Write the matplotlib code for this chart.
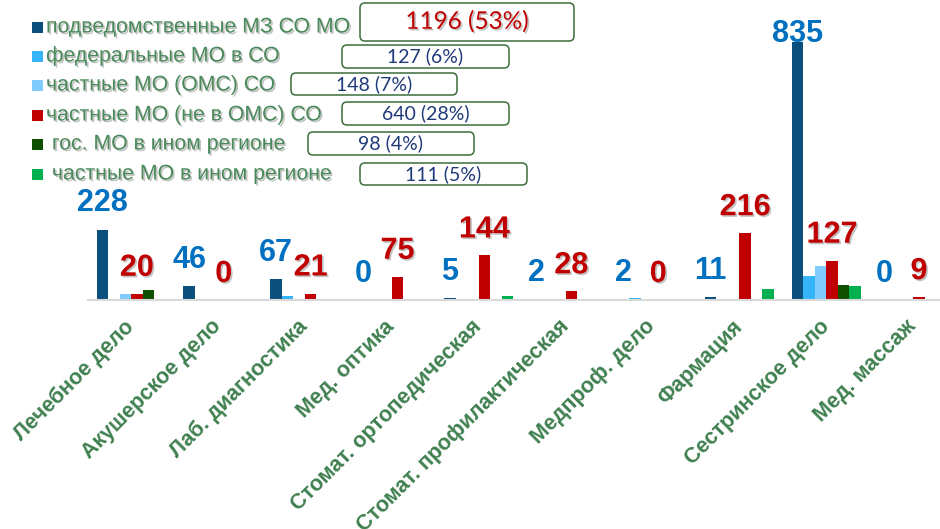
import matplotlib
matplotlib.use('Agg')
import matplotlib.pyplot as plt
import matplotlib.patheffects as pe
from matplotlib.patches import FancyBboxPatch, Rectangle
from matplotlib.transforms import IdentityTransform
import numpy as nmp

# data
categories = ['Лечебное дело', 'Акушерское дело', 'Лаб. диагностика', 'Мед. оптика',
              'Стомат. ортопедическая', 'Стомат. профилактическая', 'Медпроф. дело',
              'Фармация', 'Сестринское дело', 'Мед. массаж']
subord = [228, 46, 67, 0, 5, 2, 2, 11, 835, 0]
federal = [4, 4, 13, 0, 0, 0, 7, 0, 78, 0]
private_oms = [18, 0, 0, 2, 0, 0, 0, 0, 110, 0]
private_nonoms = [20, 0, 21, 75, 144, 28, 0, 216, 127, 9]
gov_other = [32, 1, 2, 0, 0, 0, 0, 0, 47, 0]
private_other = [0, 0, 0, 0, 13, 0, 0, 34, 45, 0]

series_names = ['подведомственные МЗ СО МО', 'федеральные МО в СО', 'частные МО (ОМС) СО',
                'частные МО (не в ОМС) СО', ' гос. МО в ином регионе', ' частные МО в ином регионе']
totals = [1196, 127, 148, 640, 98, 111]
shares = [53, 6, 7, 28, 4, 5]

colors = ['#0B4F7C', '#36B4FA', '#80CCFF', '#C00000', '#0E5000', '#00B050']
green_txt = '#3F8050'

W, H = 940, 529
fig = plt.figure(figsize=(W / 100, H / 100), dpi=100)
ax = fig.add_axes([87.6 / W, 1 - 300 / H, 869 / W, 280 / H])

series = [subord, federal, private_oms, private_nonoms, gov_other, private_other]
x = nmp.arange(len(categories))
bw = 0.1323
for i, s in enumerate(series):
    ax.bar(x + (i - 2.5) * bw, s, bw, color=colors[i], linewidth=0)

ytop = 906
ax.set_ylim(0, ytop)
ax.set_xlim(-0.5, len(categories) - 0.5)
for sp in ['left', 'right', 'top']:
    ax.spines[sp].set_visible(False)
ax.spines['bottom'].set_color('#D9D9D9')
ax.spines['bottom'].set_linewidth(1.5)
ax.set_yticks([])
ax.set_xticks(x)
ax.set_xticklabels(categories, rotation=45, ha='right', va='center', rotation_mode='anchor',
                   fontsize=15.5, fontweight='bold', color=green_txt, family='Liberation Sans')
ax.tick_params(axis='x', length=0, pad=17)

shadow = [pe.withSimplePatchShadow(offset=(1.2, -1.2), shadow_rgbFace='#888888', alpha=0.5)]

def value_label(xi, v, col, eff):
    if v > 0.8 * ytop:
        # too tall: label sits on the top of the bar
        ax.annotate(str(v), (xi, v), xytext=(0, 0), textcoords='offset points',
                    ha='center', va='baseline', fontsize=22, fontweight='bold', color=col,
                    family='Liberation Sans', path_effects=eff)
    else:
        ax.annotate(str(v), (xi, v), xytext=(0, 13), textcoords='offset points',
                    ha='center', va='baseline', fontsize=22, fontweight='bold', color=col,
                    family='Liberation Sans', path_effects=eff)

for c in range(len(categories)):
    value_label(x[c] - 2.5 * bw, subord[c], '#0070C0', None)
    value_label(x[c] + 0.5 * bw, private_nonoms[c], '#C00000', shadow)

# legend drawn by hand, in pixel positions
ident = IdentityTransform()
row_y = [27, 56, 85, 115, 144, 174]
text_x = [46, 46, 46, 46, 46, 46]
boxes = [(360, 3, 574, 41), (342, 45, 509, 68), (291, 73, 457, 95),
         (342, 102, 509, 125), (308, 132, 474, 155), (360, 163, 527, 185)]
for i in range(6):
    y = row_y[i]
    fig.add_artist(Rectangle((32, H - y - 5.5), 11, 11, transform=ident,
                             facecolor=colors[i], edgecolor='none'))
    fig.text(text_x[i] / W, 1 - y / H, series_names[i], ha='left', va='center',
             fontsize=15.3, color='#4A8A5A', family='Liberation Sans', path_effects=shadow)
    x0, y0, x1, y1 = boxes[i]
    fig.add_artist(FancyBboxPatch((x0, H - y1), x1 - x0, y1 - y0, transform=ident,
                                  boxstyle='round,pad=0,rounding_size=5',
                                  facecolor='white', edgecolor='#3C6E3C', linewidth=1.1))
    if i == 0:
        fig.text((x0 + x1) / 2 / W, 1 - (y0 + y1) / 2 / H, '%d (%d%%)' % (totals[i], shares[i]),
                 ha='center', va='center', fontsize=17.5, color='#C00000', family='Lato',
                 path_effects=shadow)
    else:
        fig.text((x0 + x1) / 2 / W, 1 - (y0 + y1) / 2 / H, '%d (%d%%)' % (totals[i], shares[i]),
                 ha='center', va='center', fontsize=14, color='#1F3A7A', family='Lato')

fig.savefig('out.png', dpi=100)
